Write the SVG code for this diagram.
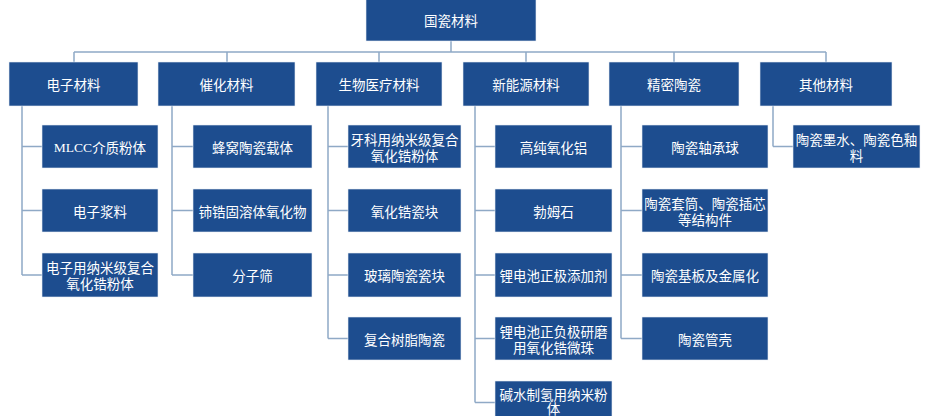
<svg xmlns="http://www.w3.org/2000/svg" width="928" height="416" viewBox="0 0 928 416">
<style>
.b{fill:#1d4d8f;stroke:#e9eef5;stroke-width:0.6}
.t{fill:#ffffff;font-family:"Noto Sans CJK SC","Noto Sans",sans-serif;font-size:13.5px;text-anchor:middle;dominant-baseline:central}
.s{font-family:"Liberation Serif","Noto Sans CJK SC",serif}
.c{fill:none;stroke:#8fa9c6;stroke-width:1.5}
</style>
<rect width="928" height="416" fill="#ffffff"/>
<g id="connectors">
<path class="c" d="M451,41V52M74,52H826M74,52V62M227,52V62M379,52V62M526,52V62M674,52V62M826,52V62"/>
<path class="c" d="M22,106V275M22,146.5H42M22,210.5H42M22,275H42"/>
<path class="c" d="M172,106V275M172,146.5H193M172,210.5H193M172,275H193"/>
<path class="c" d="M328,106V338.5M328,146.5H348M328,210.5H348M328,275H348M328,338.5H348"/>
<path class="c" d="M475,106V402.5M475,146.5H495M475,210.5H495M475,275H495M475,338.5H495M475,402.5H495"/>
<path class="c" d="M621,106V338.5M621,146.5H642M621,210.5H642M621,275H642M621,338.5H642"/>
<path class="c" d="M773,106V146.5M773,146.5H793"/>
</g>
<g id="root"><rect class="b" x="366" y="-1" width="170" height="42"/><text class="t" x="451" y="20">国瓷材料</text></g>
<g id="cat1"><rect class="b" x="9" y="62" width="129" height="44"/><text class="t" x="73.5" y="84">电子材料</text></g>
<g id="cat2"><rect class="b" x="158" y="62" width="137" height="44"/><text class="t" x="226.5" y="84">催化材料</text></g>
<g id="cat3"><rect class="b" x="316" y="62" width="126" height="44"/><text class="t" x="379" y="84">生物医疗材料</text></g>
<g id="cat4"><rect class="b" x="463" y="62" width="126" height="44"/><text class="t" x="526" y="84">新能源材料</text></g>
<g id="cat5"><rect class="b" x="609" y="62" width="130" height="44"/><text class="t" x="674" y="84">精密陶瓷</text></g>
<g id="cat6"><rect class="b" x="760" y="62" width="132" height="44"/><text class="t" x="826" y="84">其他材料</text></g>

<g id="e1"><rect class="b" x="42" y="125" width="116" height="43"/><text class="t" x="100" y="146.5"><tspan class="s">MLCC</tspan>介质粉体</text></g>
<g id="e2"><rect class="b" x="42" y="189" width="116" height="43"/><text class="t" x="100" y="210.5">电子浆料</text></g>
<g id="e3"><rect class="b" x="42" y="253" width="116" height="44"/><text class="t" x="100" y="267">电子用纳米级复合</text><text class="t" x="100" y="283">氧化锆粉体</text></g>

<g id="k1"><rect class="b" x="193" y="125" width="119" height="43"/><text class="t" x="252.5" y="146.5">蜂窝陶瓷载体</text></g>
<g id="k2"><rect class="b" x="193" y="189" width="119" height="43"/><text class="t" x="252.5" y="210.5">铈锆固溶体氧化物</text></g>
<g id="k3"><rect class="b" x="193" y="253" width="119" height="44"/><text class="t" x="252.5" y="275">分子筛</text></g>

<g id="m1"><rect class="b" x="348" y="125" width="113" height="43"/><text class="t" x="404.5" y="139">牙科用纳米级复合</text><text class="t" x="404.5" y="155">氧化锆粉体</text></g>
<g id="m2"><rect class="b" x="348" y="189" width="113" height="43"/><text class="t" x="404.5" y="210.5">氧化锆瓷块</text></g>
<g id="m3"><rect class="b" x="348" y="253" width="113" height="44"/><text class="t" x="404.5" y="275">玻璃陶瓷瓷块</text></g>
<g id="m4"><rect class="b" x="348" y="317" width="113" height="43"/><text class="t" x="404.5" y="338.5">复合树脂陶瓷</text></g>

<g id="n1"><rect class="b" x="495" y="125" width="117" height="43"/><text class="t" x="553.5" y="146.5">高纯氧化铝</text></g>
<g id="n2"><rect class="b" x="495" y="189" width="117" height="43"/><text class="t" x="553.5" y="210.5">勃姆石</text></g>
<g id="n3"><rect class="b" x="495" y="253" width="117" height="44"/><text class="t" x="553.5" y="275">锂电池正极添加剂</text></g>
<g id="n4"><rect class="b" x="495" y="317" width="117" height="43"/><text class="t" x="553.5" y="330.5">锂电池正负极研磨</text><text class="t" x="553.5" y="346.5">用氧化锆微珠</text></g>
<g id="n5"><rect class="b" x="495" y="381" width="117" height="44"/><text class="t" x="553.5" y="393.5">碱水制氢用纳米粉</text><text class="t" x="553.5" y="408">体</text></g>

<g id="p1"><rect class="b" x="642" y="125" width="126" height="43"/><text class="t" x="705" y="146.5">陶瓷轴承球</text></g>
<g id="p2"><rect class="b" x="642" y="189" width="126" height="43"/><text class="t" x="705" y="202.5">陶瓷套筒、陶瓷插芯</text><text class="t" x="705" y="218.5">等结构件</text></g>
<g id="p3"><rect class="b" x="642" y="253" width="126" height="44"/><text class="t" x="705" y="275">陶瓷基板及金属化</text></g>
<g id="p4"><rect class="b" x="642" y="317" width="126" height="43"/><text class="t" x="705" y="338.5">陶瓷管壳</text></g>

<g id="o1"><rect class="b" x="793" y="125" width="127" height="43"/><text class="t" x="856.5" y="139">陶瓷墨水、陶瓷色釉</text><text class="t" x="856.5" y="155">料</text></g>
</svg>
